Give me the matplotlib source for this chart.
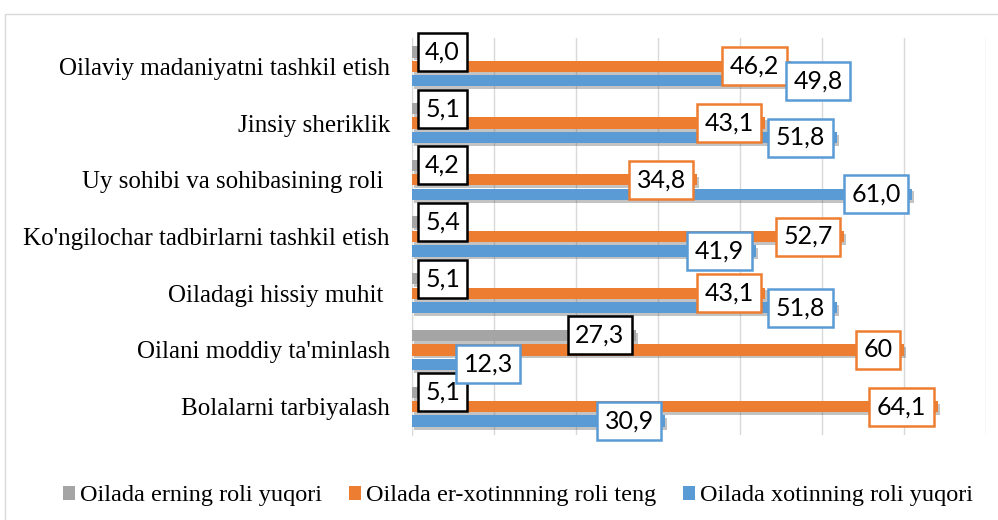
import numpy as np
import matplotlib
matplotlib.use("Agg")
import matplotlib.pyplot as plt
import matplotlib.patheffects as pe
from matplotlib.patches import Rectangle

# categories listed top to bottom
categories = [
    "Oilaviy madaniyatni tashkil etish",
    "Jinsiy sheriklik",
    "Uy sohibi va sohibasining roli ",
    "Ko'ngilochar tadbirlarni tashkil etish",
    "Oiladagi hissiy muhit ",
    "Oilani moddiy ta'minlash",
    "Bolalarni tarbiyalash",
]
series_names = [
    "Oilada erning roli yuqori",
    "Oilada er-xotinnning roli teng",
    "Oilada xotinning roli yuqori",
]
erning = [4.0, 5.1, 4.2, 5.4, 5.1, 27.3, 5.1]
teng = [46.2, 43.1, 34.8, 52.7, 43.1, 60, 64.1]
xotinning = [49.8, 51.8, 61.0, 41.9, 51.8, 12.3, 30.9]

label_text = [
    ["4,0", "5,1", "4,2", "5,4", "5,1", "27,3", "5,1"],
    ["46,2", "43,1", "34,8", "52,7", "43,1", "60", "64,1"],
    ["49,8", "51,8", "61,0", "41,9", "51,8", "12,3", "30,9"],
]

colors = ["#A5A5A5", "#ED7D31", "#5B9BD5"]
edge_colors = ["#000000", "#ED7D31", "#5B9BD5"]

fig = plt.figure(figsize=(9.98, 5.2), dpi=100)
ax = fig.add_axes([412 / 998, 1 - 435 / 520, (986 - 412) / 998, (435 - 38) / 520])

# outer chart border
fig.add_artist(Rectangle((5 / 998, -0.01), 1.0, 1 - 14 / 520 + 0.01,
                         transform=fig.transFigure, fill=False,
                         edgecolor="#D9D9D9", linewidth=1.0))

y = np.arange(len(categories))
offsets = [-0.255, 0.0, 0.255]
height = 0.2
shadow = [pe.SimplePatchShadow(offset=(1.5, -2), alpha=0.35, shadow_rgbFace="#555555"),
          pe.Normal()]

all_vals = [erning, teng, xotinning]
for i, vals in enumerate(all_vals):
    bars = ax.barh(y + offsets[i], vals, height=height, color=colors[i],
                   label=series_names[i], zorder=3)
    for b in bars:
        b.set_path_effects(shadow)

# data labels: inside end, small grey values pushed off the axis
for i, vals in enumerate(all_vals):
    for j, v in enumerate(vals):
        txt = label_text[i][j]
        if i == 0 and v < 10:
            x, ha = 1.6, "left"
        elif i == 2 and j == 0:
            x, ha = v - 0.3, "center"
        elif i == 2 and j == 5:
            x, ha = v, "right"
        else:
            x, ha = v - 1.4, "right"
        ax.text(x, y[j] + offsets[i], txt, ha=ha, va="center",
                fontsize=18, family="Lato", color="#000000", zorder=5,
                bbox=dict(boxstyle="square,pad=0.3", facecolor="white",
                          edgecolor=edge_colors[i], linewidth=1.8))

ax.set_xlim(0, 70)
ax.set_ylim(len(categories) - 0.5, -0.5)
ax.set_xticks(np.arange(0, 71, 10))
ax.xaxis.set_tick_params(length=0, labelbottom=False)
ax.grid(axis="x", color="#D9D9D9", linewidth=1.0, zorder=0)
ax.set_axisbelow(True)
for s in ["top", "right", "bottom"]:
    ax.spines[s].set_visible(False)
ax.spines["left"].set_color("#D9D9D9")

ax.set_yticks(y)
ax.set_yticklabels(categories, family="Liberation Serif", fontsize=18)
ax.tick_params(axis="y", length=0, pad=16)

leg = fig.legend(loc="center", bbox_to_anchor=(0.519, 1 - 496 / 520), ncol=3,
                 frameon=False, prop={"family": "Liberation Serif", "size": 17.5},
                 handlelength=0.5, handleheight=0.5, handletextpad=0.2,
                 columnspacing=1.1)
for h in leg.legend_handles:
    h.set_path_effects([pe.Normal()])

fig.savefig("out.png", dpi=100)
